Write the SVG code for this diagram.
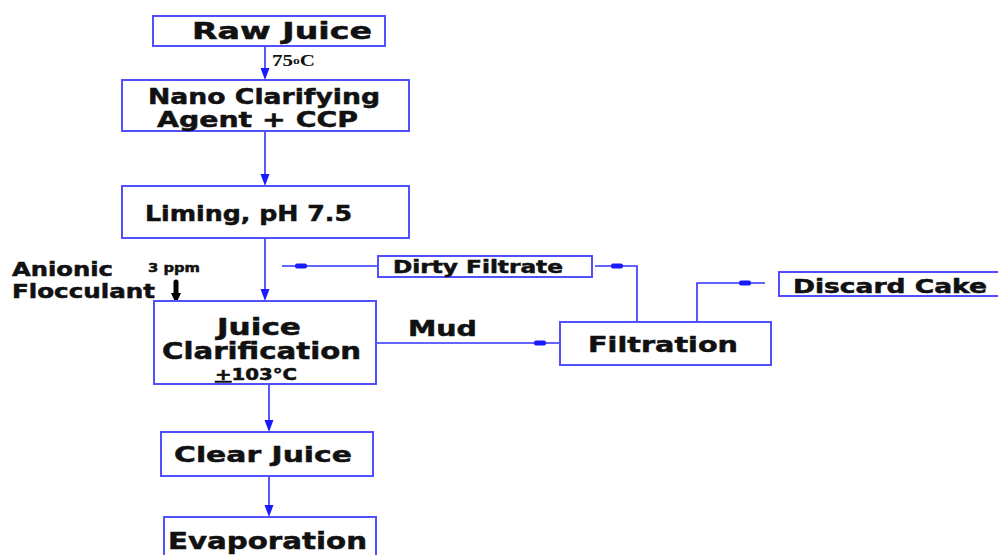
<svg xmlns="http://www.w3.org/2000/svg" width="998" height="555" viewBox="0 0 998 555">
<style>
.box{fill:#fff;stroke:#5050ff;stroke-width:2}
.t{font-family:"DejaVu Sans",Verdana,sans-serif;font-weight:bold;fill:#111;stroke:#111;stroke-width:0.5}
.ln{fill:none;stroke:#3030ff;stroke-width:1.6}
.hd{fill:#1a1aff}
</style>
<rect width="998" height="555" fill="#fff"/>
<g id="connectors">
<line class="ln" x1="265" y1="46" x2="265" y2="72"/>
<path class="hd" d="M260.5,68 L269.5,68 L265,80 Z"/>
<line class="ln" x1="265" y1="131" x2="265" y2="178"/>
<path class="hd" d="M260.5,174 L269.5,174 L265,186 Z"/>
<line class="ln" x1="265" y1="238" x2="265" y2="293"/>
<path class="hd" d="M260.5,289 L269.5,289 L265,301 Z"/>
<line class="ln" x1="269" y1="384" x2="269" y2="424"/>
<path class="hd" d="M264.5,420 L273.5,420 L269,432 Z"/>
<line class="ln" x1="269" y1="476" x2="269" y2="509"/>
<path class="hd" d="M264.5,505 L273.5,505 L269,517 Z"/>
<line class="ln" x1="378" y1="266" x2="282" y2="266"/>
<rect class="hd" x="295" y="263.5" width="12" height="5" rx="2"/>
<polyline class="ln" points="637,322 637,266 595,266"/>
<rect class="hd" x="611" y="263.5" width="12" height="5" rx="2"/>
<line class="ln" x1="376" y1="343" x2="560" y2="343"/>
<rect class="hd" x="534" y="340.5" width="12" height="5" rx="2"/>
<polyline class="ln" points="697,322 697,283 765,283"/>
<rect class="hd" x="739" y="280.5" width="12" height="5" rx="2"/>
<line x1="176" y1="282" x2="176" y2="295" stroke="#000" stroke-width="5" stroke-linecap="round"/>
<path d="M171,293 L181,293 L176,304 Z" fill="#000"/>
</g>
<g id="raw-juice">
<rect class="box" x="153" y="16" width="232" height="30"/>
<text class="t" x="192" y="39" font-size="23" textLength="180" lengthAdjust="spacingAndGlyphs">Raw Juice</text>
</g>
<text x="272" y="66" font-family="'Liberation Serif',serif" font-weight="bold" font-size="17" fill="#111" textLength="43" lengthAdjust="spacingAndGlyphs">75<tspan font-size="11" dy="-2">o</tspan><tspan dy="2">C</tspan></text>
<g id="nano">
<rect class="box" x="122" y="80" width="287" height="51"/>
<text class="t" x="148" y="104" font-size="22" textLength="232" lengthAdjust="spacingAndGlyphs">Nano Clarifying</text>
<text class="t" x="157" y="127" font-size="22" textLength="201" lengthAdjust="spacingAndGlyphs">Agent + CCP</text>
</g>
<g id="liming">
<rect class="box" x="122" y="186" width="287" height="52"/>
<text class="t" x="145" y="221" font-size="21" textLength="207" lengthAdjust="spacingAndGlyphs">Liming, pH 7.5</text>
</g>
<g id="flocculant">
<text class="t" x="12" y="276" font-size="19" textLength="101" lengthAdjust="spacingAndGlyphs">Anionic</text>
<text class="t" x="12" y="298" font-size="19" textLength="143" lengthAdjust="spacingAndGlyphs">Flocculant</text>
<text class="t" x="148" y="272" font-size="13" stroke-width="0.2" textLength="52" lengthAdjust="spacingAndGlyphs">3 ppm</text>
</g>
<g id="clarification">
<rect class="box" x="154" y="301" width="222" height="83"/>
<text class="t" x="217" y="335" font-size="23" textLength="84" lengthAdjust="spacingAndGlyphs">Juice</text>
<text class="t" x="162" y="359" font-size="23" textLength="199" lengthAdjust="spacingAndGlyphs">Clarification</text>
<text class="t" x="215" y="380" font-size="15" stroke-width="0.2" textLength="82" lengthAdjust="spacingAndGlyphs"><tspan text-decoration="underline">+</tspan>103°C</text>
</g>
<g id="dirty-filtrate">
<rect class="box" x="378" y="256" width="214" height="21"/>
<text class="t" x="393" y="273" font-size="17" textLength="170" lengthAdjust="spacingAndGlyphs">Dirty Filtrate</text>
</g>
<text class="t" x="408" y="336" font-size="21" textLength="69" lengthAdjust="spacingAndGlyphs">Mud</text>
<g id="filtration">
<rect class="box" x="560" y="322" width="211" height="43"/>
<text class="t" x="588" y="352" font-size="22" textLength="150" lengthAdjust="spacingAndGlyphs">Filtration</text>
</g>
<g id="discard-cake">
<rect class="box" x="779" y="272" width="222" height="24"/>
<text class="t" x="793" y="293" font-size="19" textLength="194" lengthAdjust="spacingAndGlyphs">Discard Cake</text>
</g>
<g id="clear-juice">
<rect class="box" x="161" y="432" width="212" height="44"/>
<text class="t" x="174" y="462" font-size="22" textLength="178" lengthAdjust="spacingAndGlyphs">Clear Juice</text>
</g>
<g id="evaporation">
<rect class="box" x="164" y="517" width="212" height="45"/>
<text class="t" x="168" y="549" font-size="23" textLength="199" lengthAdjust="spacingAndGlyphs">Evaporation</text>
</g>
</svg>
